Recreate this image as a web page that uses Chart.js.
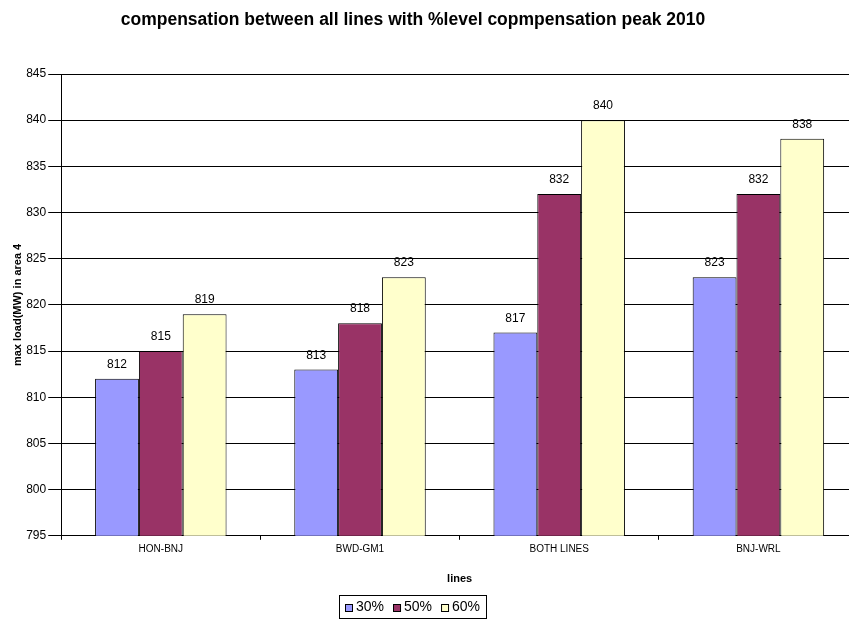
<!DOCTYPE html>
<html>
<head>
<meta charset="utf-8">
<script src="https://cdn.jsdelivr.net/npm/chart.js@4"></script>
<style>
    html, body { margin: 0; padding: 0; background: #fff; overflow: hidden; }
    /* the reference plot runs past the right edge of the picture, so the chart is a bit wider than the window */
    #clip { width: 849px; height: 621px; overflow: hidden; }
    #wrap { width: 858px; height: 621px; }
</style>
</head>
<body>
<div id="clip"><div id="wrap"><canvas id="chart"></canvas></div></div>
<script>
// data
const categories = ['HON-BNJ', 'BWD-GM1', 'BOTH LINES', 'BNJ-WRL'];
const series30 = [812, 813, 817, 823];
const series50 = [815, 818, 832, 832];
const series60 = [819, 823, 840, 838];
const seriesNames = ['30%', '50%', '60%'];
const seriesColors = ['#9999ff', '#993366', '#ffffcc'];
const chartTitle = 'compensation between all lines with %level copmpensation peak 2010';

const FONT = "'Liberation Sans', Arial, sans-serif";

// value labels above each bar
const barLabels = {
    id: 'barLabels',
    afterDatasetsDraw(chart) {
        const ctx = chart.ctx;
        ctx.save();
        ctx.font = '12px ' + FONT;
        ctx.fillStyle = '#000';
        ctx.textAlign = 'center';
        ctx.textBaseline = 'alphabetic';
        chart.data.datasets.forEach((ds, i) => {
            chart.getDatasetMeta(i).data.forEach((bar, j) => {
                ctx.fillText(ds.data[j], bar.x, bar.y - 11);
            });
        });
        ctx.restore();
    }
};

// title and boxed legend drawn by hand, centred on the visible picture
const excelDecor = {
    id: 'excelDecor',
    afterDraw(chart, args, opts) {
        const ctx = chart.ctx;
        ctx.save();
        ctx.fillStyle = '#000';
        ctx.font = 'bold 17.5px ' + FONT;
        ctx.textAlign = 'center';
        ctx.textBaseline = 'middle';
        ctx.fillText(opts.title, opts.centerX, opts.titleY);

        const sq = 8, gap = 3, itemGap = 9;
        ctx.font = '14px ' + FONT;
        const items = chart.data.datasets.map(ds => ({
            text: ds.label,
            color: ds.backgroundColor,
            w: sq + gap + ctx.measureText(ds.label).width
        }));
        const inner = items.reduce((s, it) => s + it.w, 0) + itemGap * (items.length - 1);
        const boxW = inner + 12;
        const left = Math.round(opts.centerX - boxW / 2);
        const top = opts.legendTop, h = opts.legendHeight;
        ctx.strokeStyle = '#000';
        ctx.lineWidth = 1;
        ctx.strokeRect(left + 0.5, top + 0.5, Math.round(boxW), h);
        const cy = top + h / 2 + 1;
        let x = left + 6;
        ctx.textAlign = 'left';
        items.forEach(it => {
            ctx.fillStyle = it.color;
            ctx.fillRect(x, Math.round(cy - sq / 2), sq, sq);
            ctx.strokeRect(x + 0.5, Math.round(cy - sq / 2) + 0.5, sq - 1, sq - 1);
            ctx.fillStyle = '#000';
            ctx.fillText(it.text, x + sq + gap, cy);
            x += it.w + itemGap;
        });
        ctx.restore();
    }
};

function makeDataset(label, data, color) {
    return {
        label: label,
        data: data,
        backgroundColor: color,
        borderColor: '#000',
        borderWidth: 1,
        categoryPercentage: 0.66,
        barPercentage: 1
    };
}

document.addEventListener('DOMContentLoaded', function() {
    Chart.defaults.font.family = FONT;
    Chart.defaults.color = '#000';

    new Chart(document.getElementById('chart').getContext('2d'), {
        type: 'bar',
        data: {
            labels: categories,
            datasets: seriesNames.map((name, i) =>
                makeDataset(name, [series30, series50, series60][i], seriesColors[i]))
        },
        options: {
            responsive: true,
            maintainAspectRatio: false,
            animation: false,
            layout: { padding: { left: 11, right: 0, top: 74, bottom: 31 } },
            plugins: {
                title: { display: false },
                legend: { display: false },
                tooltip: { enabled: false },
                excelDecor: {
                    title: chartTitle,
                    centerX: 413,
                    titleY: 20,
                    legendTop: 595,
                    legendHeight: 23
                }
            },
            scales: {
                x: {
                    grid: { display: true, drawOnChartArea: false, color: '#000', tickLength: 4, offset: true },
                    border: { display: true, color: '#000' },
                    ticks: { font: { size: 10 }, color: '#000', padding: 3 },
                    title: {
                        display: true,
                        text: 'lines',
                        font: { size: 11, weight: 'bold' },
                        color: '#000',
                        padding: { top: 15, bottom: 4 }
                    }
                },
                y: {
                    min: 795,
                    max: 845,
                    ticks: { stepSize: 5, font: { size: 12 }, color: '#000', padding: 2 },
                    grid: { color: '#000', tickLength: 13 },
                    border: { display: true, color: '#000' },
                    title: {
                        display: true,
                        text: 'max load(MW) in area 4',
                        font: { size: 11, weight: 'bold' },
                        color: '#000',
                        padding: { top: 0, bottom: 0 }
                    }
                }
            }
        },
        plugins: [barLabels, excelDecor]
    });
});
</script>
</body>
</html>
